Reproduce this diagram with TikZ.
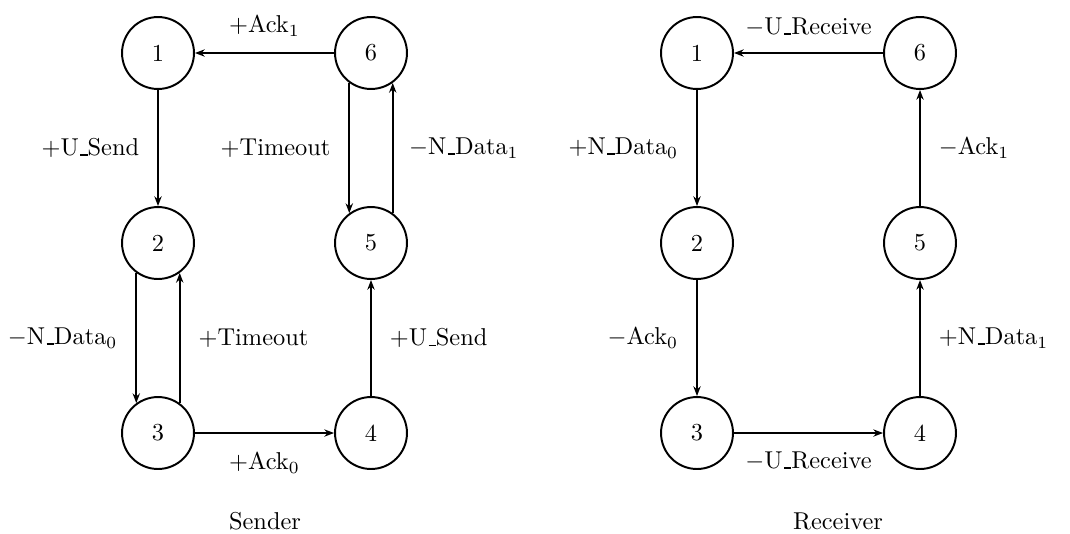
\documentclass[tikz,border=0pt]{standalone}
\usetikzlibrary{arrows.meta}

\newcommand{\uscore}{\leavevmode\kern.06em\vbox{\hrule width .3em height .45pt}}

\tikzset{
  state/.style={circle, draw=black, thick, minimum size=29.5pt, inner sep=0pt},
  trans/.style={thick, -{Stealth[length=4pt, width=3pt]}},
}

\begin{document}
\begin{tikzpicture}[x=0.41pt, y=-0.41pt]
\useasboundingbox (0,0) rectangle (1070,533);

% sender
\node[state] (s1) at (158, 53) {1};
\node[state] (s6) at (371, 53) {6};
\node[state] (s2) at (158, 243) {2};
\node[state] (s5) at (371, 243) {5};
\node[state] (s3) at (158, 433) {3};
\node[state] (s4) at (371, 433) {4};
\node (sender) at (265, 521) {Sender};

\draw[trans] (s6) -- node[above=3pt] (s_ack1) {$+$Ack$_1$} (s1);
\draw[trans] (s1) -- node[left=4pt] (s_usend1) {$+$U\uscore Send} (s2);
\draw[trans] (s6.234) -- node[left=4pt] (s_tout1) {$+$Timeout} (s5.126);
\draw[trans] (s5.54) -- node[right=3pt] (s_data1) {$-$N\uscore Data$_1$} (s6.306);
\draw[trans] (s2.234) -- node[left=4pt] (s_data0) {$-$N\uscore Data$_0$} (s3.126);
\draw[trans] (s3.54) -- node[right=4pt] (s_tout0) {$+$Timeout} (s2.306);
\draw[trans] (s3) -- node[below=4pt] (s_ack0) {$+$Ack$_0$} (s4);
\draw[trans] (s4) -- node[right=4pt] (s_usend0) {$+$U\uscore Send} (s5);

% receiver
\node[state] (r1) at (697, 53) {1};
\node[state] (r6) at (920, 53) {6};
\node[state] (r2) at (697, 243) {2};
\node[state] (r5) at (920, 243) {5};
\node[state] (r3) at (697, 433) {3};
\node[state] (r4) at (920, 433) {4};
\node (receiver) at (838, 521) {Receiver};

\draw[trans] (r6) -- node[above=3pt] (r_urec1) {$-$U\uscore Receive} (r1);
\draw[trans] (r1) -- node[left=4pt] (r_data0) {$+$N\uscore Data$_0$} (r2);
\draw[trans] (r2) -- node[left=4pt] (r_ack0) {$-$Ack$_0$} (r3);
\draw[trans] (r3) -- node[below=4pt] (r_urec0) {$-$U\uscore Receive} (r4);
\draw[trans] (r4) -- node[right=4pt] (r_data1) {$+$N\uscore Data$_1$} (r5);
\draw[trans] (r5) -- node[right=4pt] (r_ack1) {$-$Ack$_1$} (r6);

\end{tikzpicture}
\end{document}
